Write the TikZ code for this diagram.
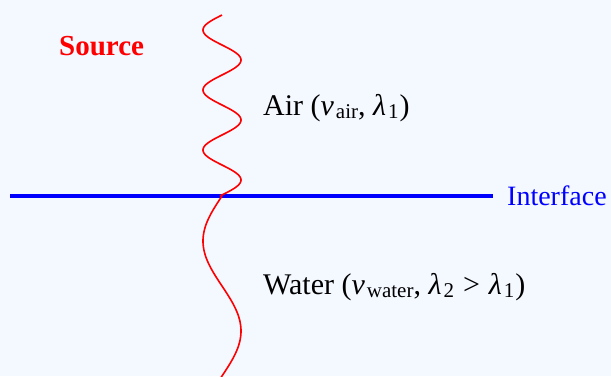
\documentclass[tikz,border=0pt]{standalone}
\usepackage{fontspec}
\setmainfont{Liberation Serif}
\definecolor{bgc}{RGB}{244,248,255}
\newcommand{\mysub}[1]{\raisebox{-3pt}{\fontsize{21}{22}\selectfont #1}}
\newcommand{\myv}{\textit{v}\kern2pt}
\newcommand{\mylam}{\textit{λ}\kern2pt}
\tikzset{
  lbl/.style={anchor=base west, inner sep=0pt, font=\fontsize{28}{32}\selectfont},
  biglbl/.style={anchor=base west, inner sep=0pt, font=\fontsize{30}{34}\selectfont},
  wave/.style={draw=red, line width=1.6pt},
  iface/.style={draw=blue, line width=3.6pt}
}
\begin{document}
\begin{tikzpicture}[x=1pt,y=-1pt]
\fill[bgc] (0,0) rectangle (611,376);
\useasboundingbox (0,0) rectangle (611,376);
\coordinate (il) at (10,196);
\coordinate (ir) at (493,196);
\draw[iface] (il) -- (ir);
\begin{scope}
\clip (0,0) rectangle (611,376);
\draw[wave] plot[domain=15:196, samples=300, smooth] ({222-19*sin(6*(\x-15))}, \x);
\draw[wave] plot[domain=196:378, samples=200, smooth] ({222-19*sin(2*(\x-196))}, \x);
\end{scope}
\node[lbl, text=red, font=\fontsize{29}{33}\selectfont\bfseries] (src) at (59,55) {Source};
\node[lbl, text=blue] (itf) at (507,205) {Interface};
\node[biglbl] (air) at (263,115) {Air (\myv\mysub{air}, \mylam\mysub{1}\kern1pt)};
\node[biglbl] (wat) at (263,294) {Water (\myv\mysub{water}, \mylam\mysub{2}\hspace{9pt}>\hspace{9pt}\mylam\mysub{1}\kern1pt)};
\end{tikzpicture}
\end{document}
